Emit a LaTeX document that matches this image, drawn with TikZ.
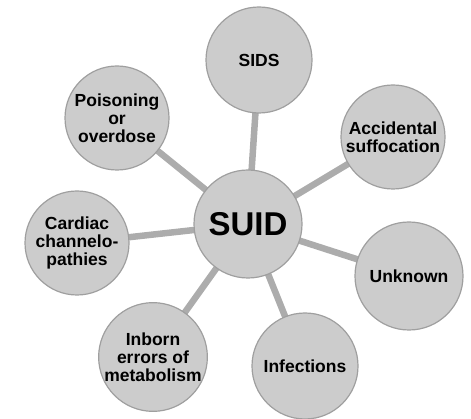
\documentclass[tikz,border=0pt]{standalone}
\usepackage{fontspec}
\setmainfont{Liberation Sans}
\usetikzlibrary{backgrounds}
\begin{document}
\begin{tikzpicture}[x=1pt,y=-1pt,
  bubble/.style={circle,fill=gray!40,draw=gray!75,line width=1.2pt,minimum size=#1,inner sep=0pt,
    align=center,font=\fontsize{17.5}{18}\selectfont\bfseries},
  link/.style={draw=gray!65,line width=6.5pt}]
\useasboundingbox (0,0) rectangle (471,419);
\node[bubble=108pt] (suid) at (248,224) {\fontsize{33}{34}\selectfont SUID};
\node[bubble=106pt] (sids) at (259,60) {SIDS};
\node[bubble=104pt] (pois) at (117,118) {Poisoning\\or\\overdose};
\node[bubble=104pt] (acc) at (393,137) {Accidental\\suffocation};
\node[bubble=104pt] (card) at (77,243) {Cardiac\\channelo-\\pathies};
\node[bubble=108pt] (unk) at (409,276) {Unknown};
\node[bubble=106pt] (inb) at (153,357) {Inborn\\errors of\\metabolism};
\node[bubble=106pt] (inf) at (305,366) {Infections};
\begin{scope}[on background layer]
\foreach \n in {sids,pois,acc,card,unk,inb,inf}
  \draw[link] (suid.center) -- (\n.center);
\end{scope}
\end{tikzpicture}
\end{document}
